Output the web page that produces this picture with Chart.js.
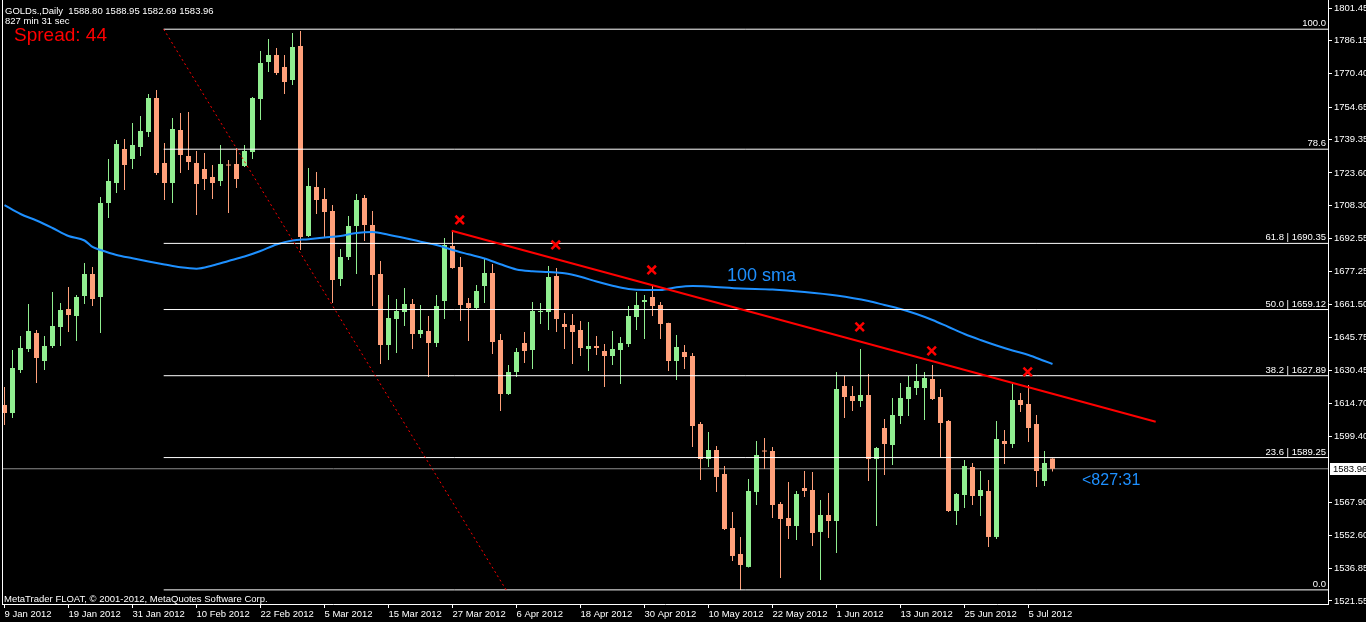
<!DOCTYPE html>
<html>
<head>
<meta charset="utf-8">
<title>GOLDs.,Daily</title>
<script src="https://cdn.jsdelivr.net/npm/chart.js@4.4.1/dist/chart.umd.min.js"></script>
<style>
    html, body { margin: 0; padding: 0; background: #000; }
    #wrap { width: 1366px; height: 622px; position: relative; }
</style>
</head>
<body>
<div id="wrap"><canvas id="goldChart"></canvas></div>
<script>
// date labels shown on the bottom axis, one every 8 bars
const dateLabels = ['9 Jan 2012', '19 Jan 2012', '31 Jan 2012', '10 Feb 2012', '22 Feb 2012', '5 Mar 2012',
    '15 Mar 2012', '27 Mar 2012', '6 Apr 2012', '18 Apr 2012', '30 Apr 2012', '10 May 2012',
    '22 May 2012', '1 Jun 2012', '13 Jun 2012', '25 Jun 2012', '5 Jul 2012'];
const dateBars = [0, 8, 16, 24, 32, 40, 48, 56, 64, 72, 80, 88, 96, 104, 112, 120, 128];

// price axis labels
const priceTicks = [1801.45, 1786.15, 1770.40, 1754.65, 1739.35, 1723.60, 1708.30, 1692.55, 1677.25,
    1661.50, 1645.75, 1630.45, 1614.70, 1599.40, 1567.90, 1552.60, 1536.85, 1521.55];

// daily candles, bar 0 = 9 Jan 2012
const openPrices = [1614.07, 1610.29, 1630.59, 1640.50, 1648.05, 1634.84, 1641.92, 1650.89, 1659.38, 1656.08,
    1665.52, 1675.90, 1665.05, 1709.41, 1718.85, 1734.90, 1730.18, 1735.85, 1742.93, 1758.97,
    1728.29, 1718.85, 1743.87, 1731.60, 1728.29, 1725.46, 1721.69, 1719.80, 1727.35, 1727.82,
    1726.88, 1733.49, 1758.50, 1775.97, 1779.27, 1773.61, 1767.47, 1783.52, 1693.84, 1716.97,
    1711.30, 1705.64, 1673.54, 1683.93, 1698.56, 1711.77, 1699.03, 1675.90, 1642.39, 1654.66,
    1657.97, 1661.74, 1647.58, 1649.00, 1643.33, 1663.16, 1689.12, 1679.21, 1662.21, 1659.85,
    1670.24, 1676.37, 1644.75, 1619.26, 1629.65, 1643.33, 1640.03, 1657.97, 1657.97, 1674.96,
    1652.30, 1651.83, 1649.47, 1640.50, 1641.92, 1639.56, 1637.20, 1640.03, 1642.86, 1655.61,
    1662.69, 1665.05, 1661.27, 1652.77, 1634.84, 1639.09, 1637.20, 1605.10, 1588.58, 1592.83,
    1581.50, 1556.01, 1543.74, 1537.61, 1573.01, 1592.36, 1592.36, 1567.34, 1560.73, 1556.96,
    1574.89, 1573.95, 1554.13, 1562.15, 1559.32, 1623.04, 1618.32, 1615.96, 1618.79, 1588.58,
    1603.21, 1595.19, 1608.88, 1616.90, 1622.09, 1622.09, 1626.34, 1617.85, 1606.52, 1564.04,
    1571.59, 1584.81, 1571.12, 1573.48, 1551.77, 1597.08, 1595.66, 1616.43, 1614.54, 1605.10,
    1578.20, 1588.80];
const highPrices = [1622.57, 1640.03, 1646.64, 1661.74, 1649.47, 1646.64, 1667.41, 1662.21, 1669.77, 1665.99,
    1681.09, 1679.21, 1712.25, 1730.18, 1739.15, 1739.62, 1747.17, 1750.48, 1760.86, 1762.75,
    1737.73, 1749.53, 1751.89, 1752.37, 1733.96, 1733.01, 1727.35, 1736.79, 1729.71, 1735.37,
    1736.79, 1759.45, 1781.16, 1786.82, 1782.57, 1779.27, 1789.65, 1790.60, 1725.93, 1724.05,
    1716.49, 1708.47, 1687.70, 1703.28, 1713.66, 1713.19, 1705.64, 1682.04, 1665.99, 1664.10,
    1669.29, 1664.10, 1661.27, 1656.08, 1665.99, 1692.89, 1696.20, 1683.93, 1664.57, 1670.71,
    1682.98, 1680.62, 1647.58, 1632.95, 1640.97, 1648.53, 1662.69, 1662.21, 1679.68, 1678.73,
    1657.49, 1657.02, 1653.72, 1653.25, 1646.64, 1642.86, 1649.00, 1646.17, 1660.80, 1667.41,
    1665.99, 1670.24, 1662.69, 1652.90, 1647.11, 1642.39, 1638.61, 1606.05, 1601.33, 1594.72,
    1585.28, 1563.57, 1551.77, 1579.14, 1597.08, 1598.49, 1594.25, 1568.29, 1577.73, 1573.48,
    1582.92, 1582.45, 1569.23, 1572.53, 1629.65, 1627.76, 1623.04, 1640.50, 1628.70, 1594.25,
    1607.46, 1617.37, 1624.45, 1627.76, 1633.42, 1629.65, 1632.95, 1621.62, 1606.99, 1572.53,
    1588.11, 1586.69, 1582.92, 1578.67, 1606.52, 1602.27, 1623.98, 1619.73, 1623.51, 1609.35,
    1592.36, 1588.95];
const lowPrices = [1604.63, 1607.93, 1629.17, 1639.09, 1624.45, 1630.59, 1640.97, 1641.92, 1648.53, 1644.28,
    1661.74, 1660.80, 1648.05, 1702.33, 1714.13, 1715.55, 1725.46, 1731.60, 1740.57, 1722.63,
    1710.83, 1709.41, 1723.57, 1724.99, 1703.75, 1715.55, 1711.30, 1717.44, 1704.69, 1716.49,
    1726.41, 1730.18, 1748.59, 1771.25, 1769.83, 1760.86, 1765.11, 1687.23, 1693.37, 1704.22,
    1693.37, 1662.21, 1670.24, 1682.51, 1675.90, 1691.48, 1660.80, 1633.42, 1635.31, 1638.61,
    1651.36, 1640.50, 1645.69, 1627.29, 1641.45, 1654.66, 1678.40, 1653.72, 1644.28, 1658.91,
    1662.21, 1638.14, 1611.24, 1618.79, 1627.29, 1633.89, 1631.06, 1652.30, 1649.47, 1648.53,
    1640.50, 1633.42, 1637.20, 1630.12, 1637.67, 1622.57, 1632.95, 1623.98, 1641.45, 1649.47,
    1645.22, 1656.08, 1645.22, 1630.12, 1625.87, 1631.06, 1594.25, 1578.67, 1584.81, 1573.01,
    1555.07, 1540.44, 1526.75, 1537.40, 1566.87, 1583.86, 1560.73, 1532.41, 1550.82, 1550.35,
    1570.65, 1547.51, 1531.47, 1551.29, 1544.21, 1607.93, 1611.24, 1613.13, 1578.20, 1556.96,
    1581.03, 1585.75, 1605.10, 1608.88, 1618.79, 1606.99, 1616.43, 1589.53, 1563.57, 1557.43,
    1565.45, 1566.87, 1561.68, 1547.05, 1550.82, 1586.22, 1593.77, 1610.77, 1596.61, 1575.37,
    1575.84, 1582.69];
const closePrices = [1610.29, 1631.53, 1640.97, 1649.00, 1636.25, 1641.92, 1651.36, 1658.91, 1656.55, 1665.05,
    1675.90, 1664.10, 1709.41, 1719.80, 1737.26, 1727.35, 1736.79, 1743.40, 1758.97, 1723.57,
    1718.85, 1744.34, 1732.07, 1728.77, 1718.38, 1720.74, 1718.85, 1727.82, 1727.10, 1720.74,
    1733.96, 1758.97, 1775.49, 1779.27, 1770.77, 1766.53, 1783.05, 1693.37, 1717.44, 1710.83,
    1705.17, 1673.07, 1683.93, 1698.56, 1710.83, 1699.03, 1675.43, 1642.39, 1655.13, 1658.44,
    1661.74, 1647.58, 1649.47, 1643.33, 1660.80, 1689.59, 1678.73, 1661.27, 1659.85, 1667.88,
    1676.37, 1643.81, 1619.26, 1629.65, 1639.09, 1639.56, 1658.44, 1658.20, 1674.49, 1654.66,
    1650.89, 1648.53, 1640.97, 1641.92, 1640.97, 1637.20, 1640.50, 1643.33, 1656.08, 1661.27,
    1663.63, 1660.80, 1652.30, 1634.84, 1641.45, 1636.73, 1604.16, 1588.58, 1592.83, 1580.09,
    1555.54, 1542.80, 1538.55, 1573.48, 1590.47, 1592.10, 1566.87, 1560.26, 1556.96, 1572.06,
    1573.48, 1553.65, 1562.15, 1559.32, 1621.62, 1617.85, 1615.96, 1618.79, 1588.58, 1593.77,
    1595.66, 1609.35, 1617.37, 1622.57, 1625.40, 1626.81, 1616.90, 1605.57, 1564.04, 1572.06,
    1585.28, 1571.12, 1573.95, 1551.77, 1598.02, 1595.66, 1616.43, 1614.07, 1603.21, 1582.92,
    1586.69, 1583.96];

// 100 sma
const smaBars = [0, 2, 4, 6, 8, 10, 11, 12, 14, 16, 18, 20, 22, 24, 26, 28, 30, 32, 34, 36, 38, 40, 42, 44,
    46, 48, 50, 52, 54, 56, 58, 60, 62, 64, 66, 68, 70, 72, 74, 76, 78, 80, 82, 84, 86, 88, 92, 96,
    100, 104, 108, 110, 112, 114, 116, 118, 120, 122, 124, 126, 128, 130, 131];
const smaValues = [1708.38, 1704.22, 1701.15, 1697.61, 1693.84, 1691.71, 1688.65, 1687.23, 1684.87, 1683.31,
    1681.80, 1680.39, 1679.06, 1678.40, 1679.91, 1682.04, 1684.16, 1686.76, 1689.83, 1691.71, 1692.33,
    1693.08, 1693.84, 1695.25, 1695.73, 1694.45, 1692.89, 1691.15, 1689.59, 1687.23, 1685.20, 1683.22,
    1680.48, 1678.03, 1677.22, 1676.85, 1676.28, 1674.63, 1672.32, 1670.38, 1668.82, 1668.35, 1668.35,
    1669.62, 1670.24, 1670.00, 1669.06, 1668.59, 1667.41, 1665.75, 1663.16, 1661.27, 1659.38, 1657.02,
    1654.19, 1650.89, 1647.58, 1644.75, 1642.15, 1639.79, 1637.67, 1634.84, 1633.42];

// fibonacci retracement object
const fibLevels = [1791.45, 1734.81, 1690.35, 1659.12, 1627.89, 1589.25, 1526.79];
const fibNames = ['100.0', '78.6', '61.8 | 1690.35', '50.0 | 1659.12', '38.2 | 1627.89', '23.6 | 1589.25', '0.0'];
const fibBars = [19.9, 62.7];

// trend line and cross marks
const trendBars = [55.9, 143.9];
const trendPrices = [1696.34, 1606.19];
const markBars = [56.9, 68.9, 80.9, 106.9, 115.9, 127.9];
const markPrices = [1701.39, 1689.59, 1677.79, 1650.89, 1639.56, 1629.65];

const bidPrice = 1583.96;

const upColor = '#90ee90';
const downColor = '#ffa07a';
const smaColor = '#1e90ff';
const textFont = '"Liberation Sans", Arial, sans-serif';

const xMin = -0.3125, xMax = 165.4375;
const yMin = 1520.13, yMax = 1805.23;

const candleColors = openPrices.map((o, i) => closePrices[i] >= o ? upColor : downColor);
const bodyData = openPrices.map((o, i) => ({ x: i, y: [o, closePrices[i]] }));
const wickData = openPrices.map((o, i) => ({ x: i, y: [lowPrices[i], highPrices[i]] }));

function flatLine(value, color, order) {
    return {
        type: 'line',
        data: [{ x: fibBars[0], y: value }, { x: xMax, y: value }],
        borderColor: color, borderWidth: 1, pointRadius: 0, order
    };
}

const datasets = [
    {
        type: 'scatter', order: 0,
        data: markBars.map((b, i) => ({ x: b, y: markPrices[i] })),
        pointStyle: 'crossRot', pointRadius: 6, pointBorderWidth: 2.5,
        pointBorderColor: '#ff0000', pointBackgroundColor: '#ff0000'
    },
    {
        type: 'line', order: 1,
        data: trendBars.map((b, i) => ({ x: b, y: trendPrices[i] })),
        borderColor: '#ff0000', borderWidth: 2, pointRadius: 0
    },
    {
        type: 'line', order: 2,
        data: fibBars.map((b, i) => ({ x: b, y: fibLevels[i === 0 ? 0 : 6] })),
        borderColor: '#ff0000', borderWidth: 1, borderDash: [2, 3], pointRadius: 0
    },
    ...fibLevels.map(lv => flatLine(lv, '#ffffff', 3)),
    {
        type: 'line', order: 4,
        data: smaBars.map((b, i) => ({ x: b, y: smaValues[i] })),
        borderColor: smaColor, borderWidth: 2, pointRadius: 0, cubicInterpolationMode: 'monotone'
    },
    {
        type: 'bar', order: 5, grouped: false,
        data: bodyData, backgroundColor: candleColors,
        barThickness: 5, minBarLength: 1, borderWidth: 0, inflateAmount: 0
    },
    {
        type: 'bar', order: 6, grouped: false,
        data: wickData, backgroundColor: candleColors,
        barThickness: 1, borderWidth: 0, inflateAmount: 0
    },
    {
        type: 'line', order: 7,
        data: [{ x: xMin, y: bidPrice }, { x: xMax, y: bidPrice }],
        borderColor: '#8c8c8c', borderWidth: 1, pointRadius: 0
    }
];

const overlay = {
    id: 'overlay',
    afterDatasetsDraw(chart) {
        const { ctx, chartArea: a, scales: { y } } = chart;
        ctx.save();
        ctx.font = '9.5px ' + textFont;
        ctx.fillStyle = '#ffffff';
        ctx.textAlign = 'right';
        ctx.textBaseline = 'alphabetic';
        fibLevels.forEach((lv, k) => {
            ctx.fillText(fibNames[k], a.right - 2, Math.round(y.getPixelForValue(lv)) - 3);
        });

        ctx.textAlign = 'left';
        ctx.fillText('GOLDs.,Daily  1588.80 1588.95 1582.69 1583.96', 5, 14);
        ctx.fillText('827 min 31 sec', 5, 24);
        ctx.fillText('MetaTrader FLOAT, \u00a9 2001-2012, MetaQuotes Software Corp.', 4, 602);

        ctx.fillStyle = '#ff0000';
        ctx.font = '19px ' + textFont;
        ctx.fillText('Spread: 44', 14, 41);

        ctx.fillStyle = smaColor;
        ctx.font = '18px ' + textFont;
        ctx.fillText('100 sma', 727, 281);
        ctx.font = '16px ' + textFont;
        ctx.fillText('<827:31', 1082, 485);
        ctx.restore();
    },
    afterDraw(chart) {
        const { ctx, chartArea: a, scales: { y } } = chart;
        ctx.save();
        // left frame
        ctx.strokeStyle = '#ffffff';
        ctx.lineWidth = 1;
        ctx.beginPath();
        ctx.moveTo(a.left + 0.5, 0);
        ctx.lineTo(a.left + 0.5, a.bottom);
        ctx.stroke();
        // bid price box on the axis
        const py = Math.round(y.getPixelForValue(bidPrice));
        ctx.fillStyle = '#ffffff';
        ctx.fillRect(a.right + 2, py - 6, 40, 12);
        ctx.fillStyle = '#000000';
        ctx.font = '9.5px ' + textFont;
        ctx.textAlign = 'left';
        ctx.textBaseline = 'middle';
        ctx.fillText(bidPrice.toFixed(2), a.right + 5, py + 0.5);
        ctx.restore();
    }
};

function noPadding(scale) {
    scale.paddingTop = 0;
    scale.paddingBottom = 0;
    scale.paddingLeft = 0;
    scale.paddingRight = 0;
}

new Chart(document.getElementById('goldChart'), {
    type: 'bar',
    data: { datasets },
    options: {
        responsive: true,
        maintainAspectRatio: false,
        animation: false,
        events: [],
        devicePixelRatio: 1,
        layout: { autoPadding: false, padding: { left: 2, right: 0, top: 0, bottom: 0 } },
        plugins: { legend: { display: false }, tooltip: { enabled: false } },
        scales: {
            x: {
                type: 'linear', min: xMin, max: xMax, offset: false,
                afterBuildTicks: s => { s.ticks = dateBars.map(v => ({ value: v })); },
                afterFit: s => { s.height = 18; noPadding(s); },
                grid: { drawOnChartArea: false, color: '#ffffff', tickLength: 4, offset: false },
                border: { color: '#ffffff', width: 1 },
                ticks: {
                    color: '#ffffff', autoSkip: false, maxRotation: 0, minRotation: 0,
                    align: 'start', padding: 1,
                    font: { family: textFont, size: 9.5 },
                    callback: (v, i) => dateLabels[i]
                }
            },
            y: {
                type: 'linear', position: 'right', min: yMin, max: yMax,
                afterBuildTicks: s => { s.ticks = priceTicks.map(v => ({ value: v })); },
                afterFit: s => { s.width = 38; noPadding(s); },
                grid: { drawOnChartArea: false, color: '#ffffff', tickLength: 4 },
                border: { color: '#ffffff', width: 1 },
                ticks: {
                    color: '#ffffff', autoSkip: false, padding: 2,
                    font: { family: textFont, size: 9.5 },
                    callback: v => v.toFixed(2)
                }
            }
        }
    },
    plugins: [overlay]
});
</script>
</body>
</html>
